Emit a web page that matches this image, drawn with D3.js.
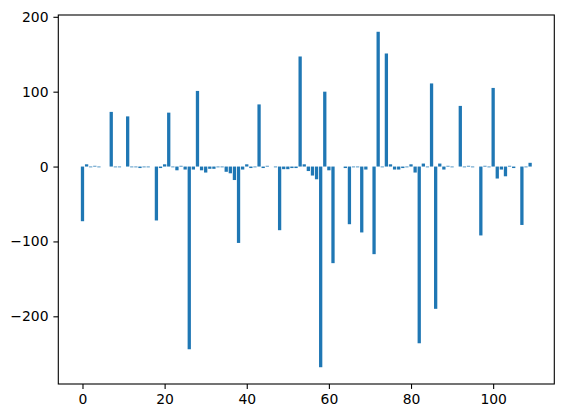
<!DOCTYPE html>
<html>
<head>
<meta charset="utf-8">
<script src="https://cdn.jsdelivr.net/npm/d3@7"></script>
<style>
html, body { margin: 0; padding: 0; background: #fff; }
svg { display: block; }
</style>
</head>
<body>
<div id="chart"></div>
<script>
const categories = d3.range(0, 110);
const values = [
  -73, 3, -1, 1, -1, 0, 0, 73, -1, -1,
  0, 67, -1, -1, -2, -1, -1, 0, -72, -2,
  3, 72, -1, -5, 1, -4, -244, -4, 101, -5,
  -8, -3, -3, -1, -1, -7, -9, -18, -102, -4,
  3, -2, -1, 83, -2, 1, 0, -1, -85, -3.5,
  -3.5, -2, -2, 147, 3, -6, -12, -17, -268, 100,
  -5, -129, 0, 0, -2, -77, -1, -1, -88, -4,
  0, -117, 180, -1, 151, 3, -4, -4, -2, -1,
  3, -8, -236, 4, -1, 111, -190, 4, -4, 1,
  -1, 0, 81, -1, 1, -1, 0, -92, 1, -1,
  105, -16, -4, -13, 1, -2, 0, -78, -1, 5
];
const xTicks = [0, 20, 40, 60, 80, 100];
const yTicks = [-200, -100, 0, 100, 200];

const W = 563, H = 418;
const m = { left: 58.3, right: W - 554.3, top: 15, bottom: H - 384 };
const iw = W - m.left - m.right, ih = H - m.top - m.bottom;

const barW = 0.8;
const xmin = d3.min(categories) - barW / 2, xmax = d3.max(categories) + barW / 2;
const xpad = (xmax - xmin) * 0.05;
const ymin = Math.min(0, d3.min(values)), ymax = Math.max(0, d3.max(values));
const ypad = (ymax - ymin) * 0.05;

const x = d3.scaleLinear().domain([xmin - xpad, xmax + xpad]).range([0, iw]);
const y = d3.scaleLinear().domain([ymin - ypad, ymax + ypad]).range([ih, 0]);

const svg = d3.select("#chart").append("svg").attr("width", W).attr("height", H);
const g = svg.append("g").attr("transform", `translate(${m.left},${m.top})`);

g.selectAll("rect.bar").data(values).enter().append("rect")
  .attr("class", "bar")
  .attr("x", (d, i) => x(categories[i] - barW / 2))
  .attr("width", (d, i) => x(categories[i] + barW / 2) - x(categories[i] - barW / 2))
  .attr("y", d => y(Math.max(0, d)))
  .attr("height", d => Math.abs(y(d) - y(0)))
  .attr("fill", "#1f77b4");

const fmt = d => d < 0 ? "\u2212" + Math.abs(d) : String(d);
const font = "'DejaVu Sans', sans-serif";

const xAxis = g.append("g").attr("transform", `translate(0,${ih})`)
  .call(d3.axisBottom(x).tickValues(xTicks).tickFormat(fmt).tickSize(4.9).tickPadding(4.9));
const yAxis = g.append("g")
  .call(d3.axisLeft(y).tickValues(yTicks).tickFormat(fmt).tickSize(4.9).tickPadding(4.9));

[xAxis, yAxis].forEach(a => {
  a.select(".domain").remove();
  a.selectAll(".tick line").attr("stroke", "#000").attr("stroke-width", 1.1);
  a.selectAll(".tick text").attr("fill", "#000").style("font-family", font).style("font-size", "13.9px");
});

g.append("rect").attr("x", 0).attr("y", 0).attr("width", iw).attr("height", ih)
  .attr("fill", "none").attr("stroke", "#000").attr("stroke-width", 1.1);
</script>
</body>
</html>
